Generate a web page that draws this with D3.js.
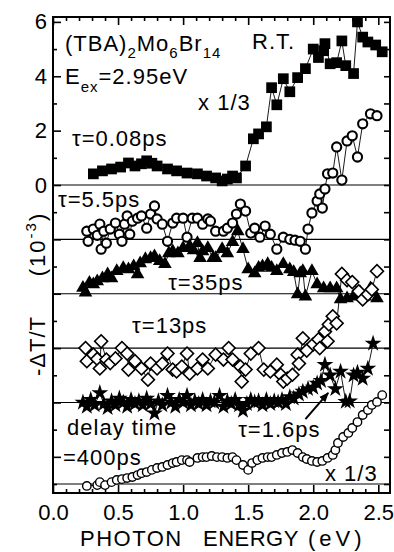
<!DOCTYPE html>
<html>
<head>
<meta charset="utf-8">
<script src="https://cdn.jsdelivr.net/npm/d3@7"></script>
<style>
  html, body { margin: 0; padding: 0; background: #fff; }
  svg { display: block; }
  text { font-family: "Liberation Sans", Arial, sans-serif; fill: #000; }
</style>
</head>
<body>
<div id="chart"></div>
<script>
// photon energy (eV) and -dT/T (1e-3), values relative to each trace's own zero line
const t008 = [[0.31,0.41],[0.38,0.52],[0.45,0.59],[0.52,0.66],[0.58,0.81],[0.63,0.70],[0.68,0.78],[0.72,0.89],[0.76,0.80],[0.80,0.70],[0.88,0.59],[0.95,0.52],[1.03,0.44],[1.11,0.41],[1.18,0.33],[1.25,0.26],[1.30,0.15],[1.34,0.22],[1.38,0.33],[1.41,0.26],[1.48,0.70],[1.54,1.70],[1.58,1.88],[1.64,2.14],[1.68,3.58],[1.72,2.95],[1.77,3.91],[1.82,3.43],[1.88,3.95],[1.94,4.28],[2.00,5.00],[2.04,4.69],[2.08,4.94],[2.09,5.20],[2.13,4.46],[2.18,4.50],[2.22,5.30],[2.25,4.39],[2.31,4.10],[2.34,6.00],[2.38,5.44],[2.42,5.26],[2.48,5.15],[2.53,4.90]];

const t55 = [[0.26,0.30],[0.27,-0.07],[0.31,0.38],[0.34,0.15],[0.36,0.56],[0.37,-0.36],[0.39,0.30],[0.41,-0.14],[0.44,0.38],[0.48,0.60],[0.51,0.19],[0.53,-0.07],[0.55,0.56],[0.57,0.86],[0.59,0.19],[0.61,0.67],[0.65,0.78],[0.68,0.86],[0.72,0.41],[0.75,0.93],[0.78,1.23],[0.80,0.75],[0.84,0.56],[0.88,-0.07],[0.92,0.60],[0.95,0.78],[1.00,0.78],[1.03,0.08],[1.07,0.78],[1.11,0.78],[1.15,0.56],[1.19,0.75],[1.21,0.67],[1.25,0.30],[1.31,0.30],[1.34,0.41],[1.38,0.60],[1.41,0.93],[1.44,1.30],[1.48,1.04],[1.52,0.23],[1.55,0.41],[1.59,0.08],[1.63,0.49],[1.67,0.19],[1.72,-0.36],[1.77,0.08],[1.82,0.00],[1.86,-0.03],[1.90,-0.07],[1.94,-0.36],[1.96,0.38],[1.99,0.97],[2.03,1.41],[2.05,1.67],[2.07,1.15],[2.09,1.85],[2.11,2.41],[2.15,2.44],[2.18,3.40],[2.22,2.18],[2.26,3.62],[2.30,3.81],[2.34,3.03],[2.38,4.25],[2.44,4.62],[2.49,4.55]];

const t35 = [[0.23,0.22],[0.25,0.04],[0.28,0.40],[0.31,0.35],[0.34,0.46],[0.38,0.57],[0.42,0.71],[0.45,0.57],[0.49,0.83],[0.54,0.94],[0.58,0.90],[0.62,1.01],[0.65,0.71],[0.67,1.12],[0.71,1.27],[0.75,1.31],[0.78,1.38],[0.82,1.20],[0.86,1.09],[0.89,1.49],[0.92,1.56],[0.96,1.49],[1.00,1.68],[1.05,1.75],[1.08,1.60],[1.11,1.86],[1.13,1.31],[1.15,1.56],[1.19,1.68],[1.23,1.31],[1.25,1.31],[1.30,1.64],[1.34,1.49],[1.38,1.90],[1.42,2.30],[1.46,1.64],[1.50,0.90],[1.55,0.75],[1.58,0.95],[1.61,1.01],[1.65,1.09],[1.68,0.95],[1.72,0.83],[1.77,1.09],[1.82,0.90],[1.85,0.80],[1.88,-0.02],[1.90,0.75],[1.92,0.83],[1.94,-0.10],[1.99,0.83],[2.03,0.35],[2.08,0.20],[2.13,0.20],[2.18,0.20],[2.21,-0.21],[2.26,-0.17],[2.31,-0.10],[2.36,0.05],[2.40,-0.10],[2.44,0.20],[2.49,-0.17]];

const t13 = [[0.25,0.00],[0.26,-0.48],[0.31,-0.24],[0.34,-0.40],[0.36,-0.75],[0.37,0.25],[0.41,-0.42],[0.44,-0.55],[0.48,-0.38],[0.53,0.00],[0.57,-0.20],[0.58,-0.79],[0.63,-0.48],[0.68,-0.75],[0.73,-1.16],[0.75,-0.57],[0.80,-0.75],[0.84,-0.57],[0.88,-0.20],[0.92,-0.79],[0.95,-0.86],[0.99,-0.68],[1.03,-0.20],[1.05,-0.94],[1.11,-0.75],[1.15,-0.42],[1.19,-0.75],[1.25,-0.24],[1.31,-0.42],[1.35,0.00],[1.38,-0.42],[1.44,-0.68],[1.45,-1.23],[1.48,-0.79],[1.52,-0.20],[1.58,0.00],[1.62,-0.79],[1.67,-0.86],[1.72,-0.61],[1.75,-0.98],[1.77,-1.23],[1.80,-1.12],[1.84,-0.98],[1.88,-0.24],[1.89,-0.57],[1.92,0.36],[1.95,-0.09],[2.00,0.14],[2.04,0.32],[2.05,0.00],[2.09,0.61],[2.11,0.25],[2.12,0.87],[2.15,1.17],[2.18,0.91],[2.22,2.73],[2.26,2.50],[2.30,2.43],[2.35,2.09],[2.38,1.79],[2.42,1.98],[2.45,2.16],[2.49,2.83]];

const t16 = [[0.23,0.00],[0.26,-0.15],[0.29,0.10],[0.32,-0.10],[0.36,0.35],[0.39,-0.05],[0.42,-0.20],[0.45,0.05],[0.48,-0.10],[0.51,0.15],[0.54,0.00],[0.57,-0.15],[0.60,0.10],[0.63,-0.05],[0.66,0.05],[0.69,-0.10],[0.72,0.15],[0.75,-0.05],[0.78,-0.40],[0.81,0.05],[0.84,-0.10],[0.88,0.25],[0.91,0.00],[0.94,-0.15],[0.97,0.10],[1.00,0.00],[1.03,0.25],[1.06,-0.10],[1.09,0.05],[1.12,-0.05],[1.15,0.10],[1.18,-0.10],[1.21,0.05],[1.24,0.00],[1.28,0.25],[1.31,-0.15],[1.34,0.05],[1.37,-0.05],[1.40,0.10],[1.43,-0.10],[1.46,-0.30],[1.49,-0.05],[1.52,0.10],[1.55,0.00],[1.58,0.05],[1.61,-0.10],[1.64,0.10],[1.67,-0.05],[1.70,0.05],[1.73,0.00],[1.76,0.10],[1.79,-0.05],[1.82,0.20],[1.85,0.15],[1.89,0.30],[1.92,0.40],[1.96,0.50],[2.00,0.55],[2.03,0.70],[2.06,0.80],[2.09,1.39],[2.13,1.00],[2.17,0.50],[2.21,1.14],[2.25,0.03],[2.28,0.05],[2.31,1.00],[2.34,1.10],[2.38,0.88],[2.42,1.25],[2.46,2.17]];

const t400 = [[0.26,-0.07],[0.34,-0.04],[0.36,0.07],[0.40,-0.04],[0.45,0.07],[0.49,0.15],[0.53,0.18],[0.57,0.22],[0.61,0.26],[0.65,0.33],[0.68,0.40],[0.72,0.44],[0.76,0.52],[0.80,0.59],[0.84,0.63],[0.88,0.70],[0.92,0.77],[0.95,0.81],[0.99,0.88],[1.03,0.88],[1.05,0.81],[1.11,0.96],[1.15,0.99],[1.18,0.99],[1.22,1.03],[1.26,0.99],[1.30,0.99],[1.34,0.96],[1.38,0.99],[1.41,0.88],[1.46,0.70],[1.50,0.52],[1.53,0.77],[1.57,0.88],[1.61,0.96],[1.65,0.99],[1.68,0.99],[1.72,1.07],[1.76,1.14],[1.80,1.18],[1.84,1.25],[1.88,1.14],[1.92,0.99],[1.95,0.92],[1.99,0.85],[2.03,0.81],[2.07,0.85],[2.11,0.96],[2.15,1.07],[2.17,1.25],[2.19,1.51],[2.23,1.73],[2.27,1.88],[2.30,2.06],[2.34,2.28],[2.38,2.54],[2.42,2.72],[2.45,2.91],[2.49,3.02],[2.53,3.27]];

// vertical shift of each trace (its zero line)
const offsets = { t008: 0, t55: -2, t35: -4, t13: -6, t16: -8, t400: -11 };

const xTicksMajor = [0, 0.5, 1.0, 1.5, 2.0, 2.5];
const yTicksLabelled = [0, 2, 4, 6];

const width = 394, height = 552;
const margin = {top: 17, right: 4, bottom: 59, left: 53};

const svg = d3.select("#chart").append("svg")
    .attr("width", width)
    .attr("height", height);

const x = d3.scaleLinear().domain([0, 2.59]).range([margin.left, width - margin.right]);
const y = d3.scaleLinear().domain([-11.33, 6.18]).range([height - margin.bottom, margin.top]);

// zero lines of the traces
svg.append("g")
    .selectAll("line")
    .data(Object.values(offsets))
    .enter()
    .append("line")
    .attr("x1", x.range()[0]).attr("x2", x.range()[1])
    .attr("y1", d => y(d)).attr("y2", d => y(d))
    .attr("stroke", "#000").attr("stroke-width", 1.1);

// axes: ticks point inward
const minorX = d3.range(0, 26).map(i => i / 10).filter(v => !xTicksMajor.some(m => Math.abs(m - v) < 1e-6));
const allY = d3.range(-11, 7);
const minorY = allY.filter(v => v % 2 !== 0);
const majorY = allY.filter(v => v % 2 === 0);

function styleAxis(g) {
    g.select(".domain").remove();
    g.selectAll("line").attr("stroke", "#000").attr("stroke-width", 1.6);
    g.selectAll("text").style("font-size", "22px").style("font-family", "'Liberation Sans', Arial, sans-serif");
}

const yb = y.range()[0], yt = y.range()[1];
const xl = x.range()[0], xr = x.range()[1];

svg.append("g").attr("transform", `translate(0,${yb})`)
    .call(d3.axisBottom(x).tickValues(xTicksMajor).tickFormat(d3.format(".1f")).tickSize(-8).tickPadding(11))
    .call(styleAxis);
svg.append("g").attr("transform", `translate(0,${yb})`)
    .call(d3.axisBottom(x).tickValues(minorX).tickFormat("").tickSize(-4))
    .call(styleAxis);
svg.append("g").attr("transform", `translate(0,${yt})`)
    .call(d3.axisTop(x).tickValues(xTicksMajor).tickFormat("").tickSize(-8))
    .call(styleAxis);
svg.append("g").attr("transform", `translate(0,${yt})`)
    .call(d3.axisTop(x).tickValues(minorX).tickFormat("").tickSize(-4))
    .call(styleAxis);

svg.append("g").attr("transform", `translate(${xl},0)`)
    .call(d3.axisLeft(y).tickValues(majorY).tickFormat(d => yTicksLabelled.includes(d) ? d : "").tickSize(-8).tickPadding(6))
    .call(styleAxis);
svg.append("g").attr("transform", `translate(${xl},0)`)
    .call(d3.axisLeft(y).tickValues(minorY).tickFormat("").tickSize(-4))
    .call(styleAxis);
svg.append("g").attr("transform", `translate(${xr},0)`)
    .call(d3.axisRight(y).tickValues(allY).tickFormat("").tickSize(-6))
    .call(styleAxis);

// frame
svg.append("rect")
    .attr("x", xl).attr("y", yt)
    .attr("width", xr - xl).attr("height", yb - yt)
    .attr("fill", "none").attr("stroke", "#000").attr("stroke-width", 2);

// traces
const series = [
    {key: "t008", data: t008, symbol: d3.symbolSquare, size: 115, fill: "#000", sw: 0, rot: 0},
    {key: "t55", data: t55, symbol: d3.symbolCircle, size: 66, fill: "#fff", sw: 2.1, rot: 0},
    {key: "t35", data: t35, symbol: d3.symbolTriangle, size: 80, fill: "#000", sw: 0, rot: 0},
    {key: "t13", data: t13, symbol: d3.symbolSquare, size: 84, fill: "#fff", sw: 1.6, rot: 45},
    {key: "t16", data: t16, symbol: d3.symbolStar, size: 88, fill: "#000", sw: 0, rot: 0},
    {key: "t400", data: t400, symbol: d3.symbolCircle, size: 56, fill: "#fff", sw: 1.4, rot: 0}
];

const line = d3.line().x(d => x(d[0])).y(d => y(d[1]));

for (const s of series) {
    const off = offsets[s.key];
    const pts = s.data.map(d => [d[0], d[1] + off]);
    const g = svg.append("g").attr("class", s.key);
    g.append("path")
        .datum(pts)
        .attr("d", line)
        .attr("fill", "none")
        .attr("stroke", "#000")
        .attr("stroke-width", 0.9);
    g.selectAll("path.pt")
        .data(pts)
        .enter()
        .append("path")
        .attr("class", "pt")
        .attr("d", d3.symbol().type(s.symbol).size(s.size))
        .attr("transform", d => `translate(${x(d[0])},${y(d[1])}) rotate(${s.rot})`)
        .attr("fill", s.fill)
        .attr("stroke", "#000")
        .attr("stroke-width", s.sw);
}

// annotations (positions in data units)
const labels = [
    {t: "τ=0.08ps", e: 0.146, v: 1.43},
    {t: "R.T.", e: 1.53, v: 5.0},
    {t: "x 1/3", e: 1.115, v: 2.76},
    {t: "τ=5.5ps", e: 0.038, v: -0.81},
    {t: "τ=35ps", e: 0.885, v: -3.86},
    {t: "τ=13ps", e: 0.608, v: -5.45},
    {t: "τ=1.6ps", e: 1.423, v: -9.27},
    {t: "delay time", e: 0.108, v: -9.20},
    {t: "=400ps", e: 0.077, v: -10.30},
    {t: "x 1/3", e: 2.09, v: -10.89}
];

const txt = svg.append("g")
    .style("font-size", "22px")
    .style("letter-spacing", "1px");

txt.selectAll("text.lab")
    .data(labels)
    .enter()
    .append("text")
    .attr("class", "lab")
    .attr("x", d => x(d.e))
    .attr("y", d => y(d.v))
    .text(d => d.t);

const title = txt.append("text").attr("x", x(0.092)).attr("y", y(4.93));
title.append("tspan").text("(TBA)");
title.append("tspan").attr("dy", 7).style("font-size", "15px").text("2");
title.append("tspan").attr("dy", -7).text("Mo");
title.append("tspan").attr("dy", 7).style("font-size", "15px").text("6");
title.append("tspan").attr("dy", -7).text("Br");
title.append("tspan").attr("dy", 7).style("font-size", "15px").text("14");

const eex = txt.append("text").attr("x", x(0.092)).attr("y", y(3.72));
eex.append("tspan").text("E");
eex.append("tspan").attr("dy", 8).style("font-size", "15px").text("ex");
eex.append("tspan").attr("dy", -8).text("=2.95eV");

// arrow to the 1.6 ps trace
const arrow = {e0: 1.94, v0: -8.61, e1: 2.115, v1: -7.65};
svg.append("defs").append("marker")
    .attr("id", "ah")
    .attr("viewBox", "0 0 10 10")
    .attr("refX", 9).attr("refY", 5)
    .attr("markerWidth", 5).attr("markerHeight", 5)
    .attr("orient", "auto")
    .append("path").attr("d", "M0,1 L10,5 L0,9 Z").attr("fill", "#000");
svg.append("line")
    .attr("x1", x(arrow.e0)).attr("y1", y(arrow.v0))
    .attr("x2", x(arrow.e1)).attr("y2", y(arrow.v1))
    .attr("stroke", "#000").attr("stroke-width", 2)
    .attr("marker-end", "url(#ah)");

// axis titles
const xt = svg.append("text")
    .attr("y", 546)
    .style("font-size", "22px")
    .style("letter-spacing", "1px");
xt.append("tspan").attr("x", 80).style("letter-spacing", "1.5px").text("PHOTON");
xt.append("tspan").attr("x", 203).style("letter-spacing", "0.5px").text("ENERGY");
xt.append("tspan").attr("x", 308).style("letter-spacing", "4px").text("(eV)");

const ylab = svg.append("g").attr("transform", "translate(45,0) rotate(-90)")
    .style("font-size", "22px")
    .style("letter-spacing", "1px");
ylab.append("text").attr("x", -376).attr("y", 0).text("-ΔT/T");
const yl2 = ylab.append("text").attr("x", -244).attr("y", 0).attr("text-anchor", "middle").style("letter-spacing", "2px");
yl2.append("tspan").text("(10");
yl2.append("tspan").attr("dy", -9).style("font-size", "15px").text("-3");
yl2.append("tspan").attr("dy", 9).text(")");
</script>
</body>
</html>
